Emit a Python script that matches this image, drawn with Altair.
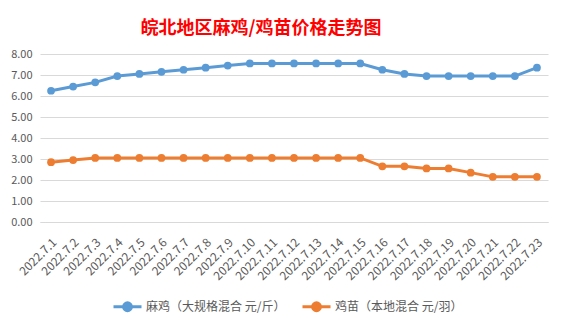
import altair as alt
import pandas as pd

dates = ["2022.7.1", "2022.7.2", "2022.7.3", "2022.7.4", "2022.7.5", "2022.7.6",
         "2022.7.7", "2022.7.8", "2022.7.9", "2022.7.10", "2022.7.11", "2022.7.12",
         "2022.7.13", "2022.7.14", "2022.7.15", "2022.7.16", "2022.7.17", "2022.7.18",
         "2022.7.19", "2022.7.20", "2022.7.21", "2022.7.22", "2022.7.23"]
maji = [6.25, 6.45, 6.65, 6.95, 7.05, 7.15, 7.25, 7.35, 7.45, 7.55, 7.55, 7.55,
        7.55, 7.55, 7.55, 7.25, 7.05, 6.95, 6.95, 6.95, 6.95, 6.95, 7.35]
jimiao = [2.85, 2.95, 3.05, 3.05, 3.05, 3.05, 3.05, 3.05, 3.05, 3.05, 3.05, 3.05,
          3.05, 3.05, 3.05, 2.65, 2.65, 2.55, 2.55, 2.35, 2.15, 2.15, 2.15]
series = ["麻鸡（大规格混合 元/斤）", "鸡苗（本地混合 元/羽）"]
colors = ["#5B9BD5", "#ED7D31"]
y_ticks = [0, 1, 2, 3, 4, 5, 6, 7, 8]

rows = []
for d, v in zip(dates, maji):
    rows.append({"date": d, "series": series[0], "value": v})
for d, v in zip(dates, jimiao):
    rows.append({"date": d, "series": series[1], "value": v})
df = pd.DataFrame(rows)

font = "Noto Sans CJK SC"
legend_path = "M-1,0L-0.28,0M0.28,0L1,0M-0.28,0A0.28,0.28 0 1,1 0.28,0A0.28,0.28 0 1,1 -0.28,0Z"

chart = alt.Chart(df).mark_line(
    strokeWidth=3,
    point=alt.OverlayMarkDef(size=60, filled=True, opacity=1),
).encode(
    x=alt.X("date:N", sort=dates,
            scale=alt.Scale(type="point", padding=0.5),
            axis=alt.Axis(title=None, labelAngle=-45, labelAlign="right",
                          labelBaseline="middle", labelPadding=18, labelOffset=3,
                          ticks=False,
                          domainColor="#D9D9D9", labelColor="#595959",
                          labelFontSize=12, labelFont=font, grid=False)),
    y=alt.Y("value:Q",
            scale=alt.Scale(domain=[0, 8], nice=False),
            axis=alt.Axis(title=None, values=y_ticks, format=".2f", ticks=False,
                          domain=False, gridColor="#D9D9D9", labelColor="#595959",
                          labelFontSize=11, labelFont=font, labelPadding=8)),
    color=alt.Color("series:N", sort=series,
                    scale=alt.Scale(domain=series, range=colors),
                    legend=alt.Legend(title=None, orient="none", direction="horizontal",
                                      legendX=72, legendY=237,
                                      symbolType=legend_path, symbolSize=784,
                                      symbolStrokeWidth=3,
                                      labelFont=font, labelFontSize=12,
                                      labelColor="#595959", labelOffset=3,
                                      columnPadding=10)),
).properties(
    width=508,
    height=168,
    autosize=alt.AutoSizeParams(type="none"),
    padding={"left": 40, "top": 54, "right": 18, "bottom": 100},
    background="white",
    title=alt.TitleParams("皖北地区麻鸡/鸡苗价格走势图", color="#FF0000",
                          font=font, fontSize=18, fontWeight="bold",
                          anchor="middle", dx=-33, offset=10),
).configure_view(stroke=None)

chart.save("out.html", embed_options={"renderer": "svg", "actions": False})
